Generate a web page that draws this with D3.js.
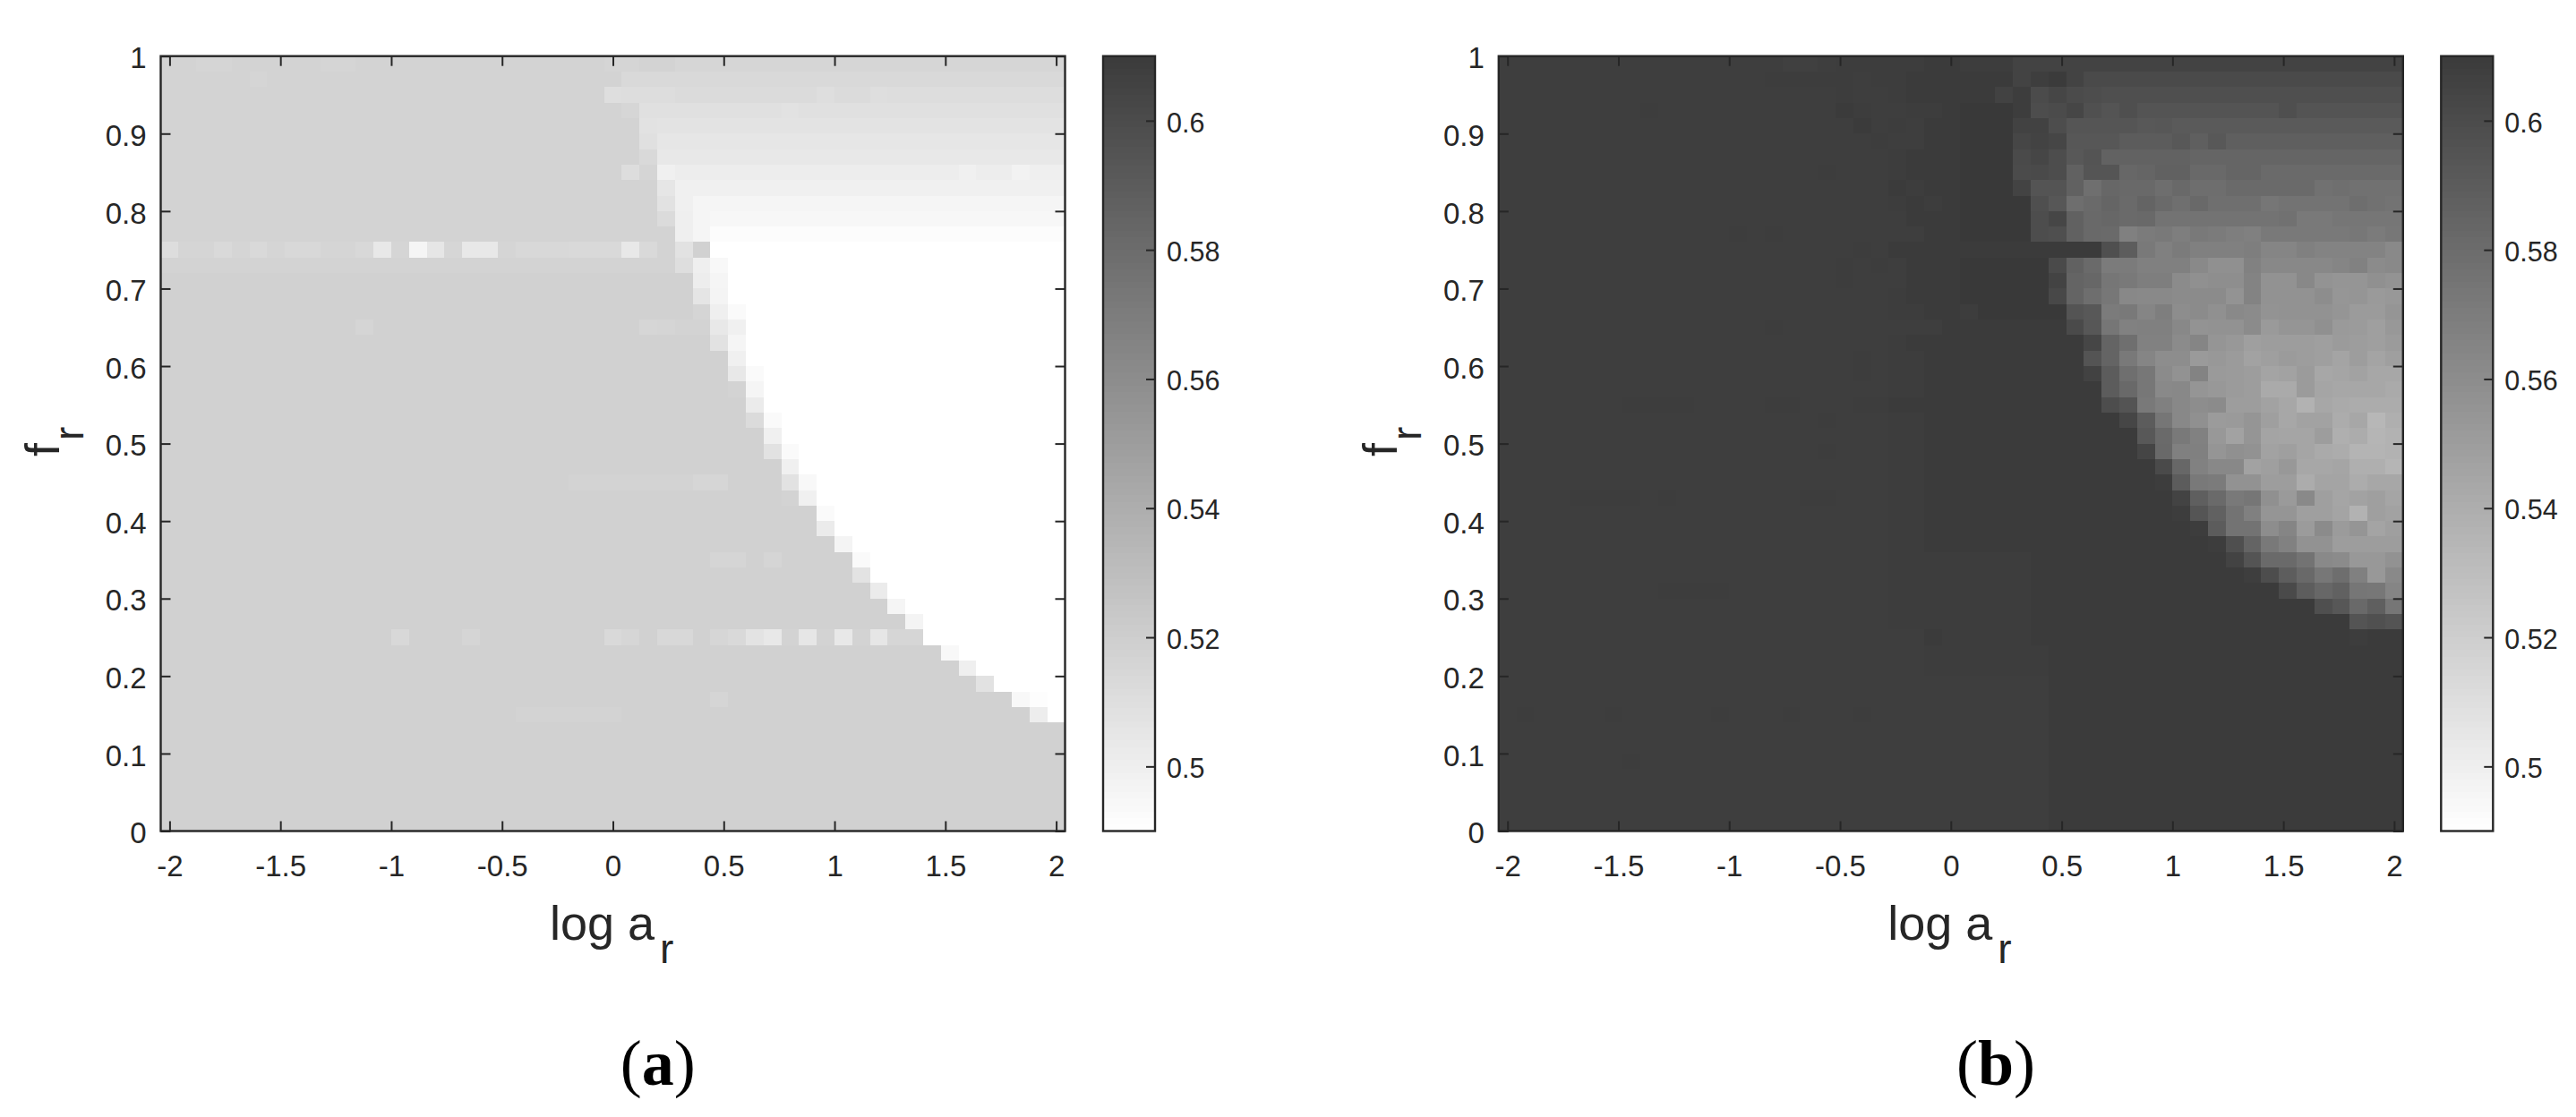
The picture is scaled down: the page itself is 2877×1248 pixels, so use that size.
<!DOCTYPE html>
<html>
<head>
<meta charset="utf-8">
<script src="https://d3js.org/d3.v7.min.js"></script>
<style>
html,body{margin:0;padding:0;background:#fff}
svg{display:block}
text{font-family:"Liberation Sans",Arial,sans-serif;fill:#262626}
.panel{font-family:"Liberation Serif",serif;fill:#000}
</style>
</head>
<body>
<svg id="chart" width="2877" height="1248"></svg>
<script>
// Tick labels
const xTicks = [-2,-1.5,-1,-0.5,0,0.5,1,1.5,2];
const yTicks = [0,0.1,0.2,0.3,0.4,0.5,0.6,0.7,0.8,0.9,1];
const cTicks = [0.5,0.52,0.54,0.56,0.58,0.6];
const panels = ["a","b"];

// Cell grid: 51 columns of log a_r, 50 rows of f_r; values in thousandths, "v*n" = n repeats, top row first
const panelA = [
"517*2,516*2,517*5,516*2,517*14,516*2,517*2,515*22",
"517*5,516,517*20,513*25",
"517*25,510,511*3,512*8,510,512*2,510,511*10",
"517*26,515,509*8,508,509*15",
"517*27,508,507*23",
"517*27,509,505*23",
"517*27,513,504*23",
"517*26,511,516,499,501*16,499,501*2,498,500*2",
"517*28,505,499*22",
"517*28,508,499,496*21",
"517*28,512,500,496,495*20",
"517*29,500,496,492*20",
"511,516*2,513,516,513,516,514*2,516*2,514,504,516,496,505,515,504*2,516,514*3,513*3,504,513,517,508,518,490*20",
"517*29,510,500,494,490*19",
"518*30,501,496,490*19",
"518*30,506,497,490*19",
"518*30,516,500,493,490*18",
"518*11,516,518*15,515,516,517,517,504,499,490*18",
"518*31,508,496,490*18",
"518*32,499,490*18",
"518*32,504,493,490*17",
"518*32,517,496,490*17",
"518*33,502,490*17",
"518*33,512,493,490*16",
"518*34,499,490*16",
"518*34,508,493,490*15",
"518*35,499,490*15",
"518*23,517*7,515*2,518*3,508,494,490*14",
"518*35,517,499,490*14",
"518*37,493,490*13",
"518*37,502,490*13",
"518*38,497,490*12",
"518*31,516*2,518,516,518*4,493,490*11",
"518*39,507,490*11",
"518*40,502,490*10",
"518*41,496,490*9",
"518*42,497,490*8",
"518*13,514,518*3,516,518*7,513,515,518,514*2,518,515,513,507,504,517,505,517,504,517,505,515*2,490*8",
"518*44,494,490*6",
"518*45,500,490*5",
"518*46,508,490*4",
"518*31,516,518*16,494,491,490",
"518*20,517*6,518*23,501,490",
"518*51","518*51","518*51","518*51","518*51","518*51","518*51"
];

const panelB = [
"608*16,607*2,608,609*5,610*2,609*3,605*22",
"608*15,609*5,608,609*2,610*3,610*3,605,608,610,605,601*18",
"608*19,609,608*2,609,610*3,610*2,606,609,600,603,600,599,598*17",
"608*8,609,608*10,610,609,608*2,609*2,610,611*3,609,599,600,603,597,595,598,595*8,598,595*6",
"608*20,610,608,609,608,610*2,611*3,606,606,599,594,594*3,592,593,591*13",
"608*21,609,608*2,610*2,611*3,603,605,603,593,593*2,590*3,592,588,592,588*10",
"608*22,609,610*3,611*3,601,603,599,592,595,586*5,584*12",
"608*18,609,608*3,609,610*3,611*3,600,601,599,587,594,594,583,584,587*2,582*2,584*2,581*8",
"608*22,610,609,610*2,611*3,605,595,595,587,578,583,582*2,579,582,579*2,581*4,581,577,578,577*3",
"608*22,609,610,609,610,611*3,611,598,593,579,581,584,581,585,581,578,582,578*3,574,576*4,579,577,576",
"608*23,610*3,611*4,599,603,587,582,583,581,582,576*7,577,572*2,574*4",
"608*13,609,608,609,608*8,610*2,611*4,599,598,587,582,581,568,571,572,569,572,571,569,568,572*5,573,571,573",
"608*20,609,608,610*4,610*8,598,589,572,568,571,568*3,569,565*2,568,566*4,562",
"608*19,609,608,609,608,610*3,611*5,601,587,581,571,571,568*3,562,558*2,567,563*4,565,567,561,562",
"608*19,609,608*3,610*3,611*5,605,585,583,574,572,569*2,561,558,559*2,566,557*2,563,556,555*2,558,556",
"608*22,609,610*3,611*5,602,585,579,573,563,562*2,561*3,556,566,557*3,560,554,555,552,553",
"608*22,609*2,610*2,609,611*5,595,592,571,572,565,569,560,561,558,562,561,556,557*3,555,551*2,555",
"608*15,609,608*9,610,610*6,601,593,574,567,568*2,563,556,557*2,561,552,555*2,558,552,551,549,553",
"608*22,609,610*3,610*7,603,585,578,567*2,561,565,555,553,549,550*3,549,551,550,549,551",
"608*20,609,608,609*2,610*2,610*7,595,585,572,565,560,560,552,553,551,547,549,551,550,549,546,550,546,549",
"608*20,609,608,609*2,610*2,610*7,606,590,578,573,561,557,566,552,551,550,546,547,551,544,545,547,544,544",
"608*22,609*2,610*2,610*8,590,582,573,562,563,555,553,551,550,542*2,551,545,544*3,542",
"608*7,609*4,608*4,609*2,608*3,609*2,610*4,610*8,599,595,572,568,563,560,561,550*2,547,544,537,544,542,541*3",
"608*18,609,608*3,609*2,610*2,610*8,610,603,590,574,563,558,551,552,555,549,544,547,547,541,544,534,539",
"608*22,609*2,610*2,610*9,610,592,581,572,567,553,547,555,546,545,545,550,539,541,535,537",
"608*18,609,608*3,609*2,610*2,610*10,604,582,568,568,555,558,557,547,549,545,542,541,536,536,537",
"608*22,609*2,610*2,610*11,601,583,567,563,563,547,549,553,544,544,545,539,539,535",
"608*22,609*2,610*2,610*11,609,590,572,571,557,557,550,550,541,546,546,541,544,544",
"608*4,609*4,608,609,608*7,609*2,608*3,609*2,610*2,610*12,605,588,581,572,574,558,552,562,549,545,547,549,545",
"608*22,609*2,610*2,610*12,609,594,587,576,568,555,555,549,549,546,537,549,547",
"608*22,609*2,610*2,610*13,609,590,576,576,560,565,551,561,551,555,546,549",
"608*22,609*2,610*2,610*14,609,598,585,572,567,557,557,550*4",
"608*22,609*8,610*11,605,595,581,581,576,562,561,553,553,557",
"608*22,609*8,610*12,608,599,589,582,573,579,568,553,562",
"608*9,609*4,608*9,609*8,610*14,601,589,583,587,574,573,565",
"608*22,609*8,610*15,610,598,593,582,588,574",
"608*22,609*8,610*18,595,597,595",
"608*24,610,609*5,610*18,609,610*2",
"608*24,609*7,610*20",
"608*24,609*7,610*20",
"608*31,610*20",
"608*31,610*20",
"608,609,608*4,609,608*5,609,608*3,609,608*3,609,608*10,610*20",
"608*31,610*20",
"608*31,610*20",
"608*7,609,608*23,610*20",
"608*31,610*20",
"608*31,610*20",
"608*31,610*20",
"608*31,610*20"
];

const expand = rows => rows.map(s => s.split(",").flatMap(t => {
  const [v, n] = t.split("*");
  return d3.range(+n || 1).map(() => +v / 1000);
}));
const grids = [expand(panelA), expand(panelB)];
grids.forEach((g, p) => g.forEach((r, i) => {
  if (r.length !== 51) console.error("panel", p, "row", i, "has", r.length);
}));
if (grids.some(g => g.length !== 50)) console.error("row count", grids.map(g => g.length));

const svg = d3.select("#chart");
const ink = "#262626";
const color = d3.scaleLinear().domain([0.49, 0.61]).range(["#ffffff", "#3b3b3b"]).interpolate(d3.interpolateRgb);
const offsets = [0, 1494.3];

panels.forEach((name, p) => {
  const g = svg.append("g").attr("transform", `translate(${offsets[p]},0)`);
  const x = d3.scaleLinear().domain([-2.04, 2.04]).range([179.5, 1189.5]);
  const y = d3.scaleLinear().domain([0, 1]).range([928.5, 62.7]);
  const data = grids[p];

  data.forEach((row, r) => {
    const fTop = 1 - 0.02 * r;
    g.selectAll(null).data(row).join("rect")
      .attr("x", (d, c) => x(-2.04 + 0.08 * c))
      .attr("width", x(0.08) - x(0))
      .attr("y", y(fTop))
      .attr("height", y(0) - y(0.02))
      .attr("fill", d => color(d))
      .attr("shape-rendering", "crispEdges");
  });

  const style = (sel, size) => {
    sel.selectAll(".domain").remove();
    sel.selectAll(".tick line").attr("stroke", ink).attr("stroke-width", 2);
    sel.selectAll(".tick text").style("font-size", size + "px").attr("fill", ink);
  };
  const fmt = d => String(d);

  const bottom = g.append("g").attr("transform", `translate(0,${y(0)})`)
    .call(d3.axisBottom(x).tickValues(xTicks).tickFormat(fmt).tickSizeInner(-11).tickPadding(24));
  style(bottom, 33);
  bottom.selectAll(".tick text").attr("y", 27).attr("dy", "0.71em");
  const top = g.append("g").attr("transform", `translate(0,${y(1)})`)
    .call(d3.axisTop(x).tickValues(xTicks).tickFormat("").tickSizeInner(-11));
  style(top, 33);
  const left = g.append("g").attr("transform", `translate(${x(-2.04)},0)`)
    .call(d3.axisLeft(y).tickValues(yTicks).tickFormat(fmt).tickSizeInner(-11).tickPadding(16));
  style(left, 33);
  left.selectAll(".tick text").attr("x", -16).attr("dy", "0.4em");
  const right = g.append("g").attr("transform", `translate(${x(2.04)},0)`)
    .call(d3.axisRight(y).tickValues(yTicks).tickFormat("").tickSizeInner(-11));
  style(right, 33);

  g.append("rect").attr("x", x(-2.04)).attr("y", y(1))
    .attr("width", x(2.04) - x(-2.04)).attr("height", y(0) - y(1))
    .attr("fill", "none").attr("stroke", ink).attr("stroke-width", 2.4);

  // axis titles
  g.append("text").attr("x", 614).attr("y", 1049.5).style("font-size", "54px")
    .text("log a").append("tspan").attr("x", 737).attr("y", 1075.7).style("font-size", "46px").text("r");
  g.append("text").attr("transform", "translate(66,510) rotate(-90)").style("font-size", "54px")
    .text("f").append("tspan").attr("dx", 3).attr("dy", 27).style("font-size", "46px").text("r");

  // panel letter
  const lab = g.append("text").attr("class", "panel").attr("x", 734.7).attr("y", 1211.7)
    .attr("text-anchor", "middle").style("font-size", "72px");
  lab.append("tspan").text("(");
  lab.append("tspan").style("font-weight", "bold").text(name);
  lab.append("tspan").text(")");

  // colour bar
  const cy = d3.scaleLinear().domain([0.49, 0.61]).range([928.5, 62.7]);
  const cbX = 1232, cbW = 58;
  const levels = d3.range(0, 120).map(k => 0.49 + k * 0.001);
  g.selectAll(null).data(levels).join("rect")
    .attr("x", cbX).attr("width", cbW)
    .attr("y", d => cy(d + 0.001))
    .attr("height", cy(0.49) - cy(0.491))
    .attr("fill", d => color(d + 0.0005))
    .attr("shape-rendering", "crispEdges");
  const cAxis = g.append("g").attr("transform", `translate(${cbX + cbW},0)`)
    .call(d3.axisRight(cy).tickValues(cTicks).tickFormat(fmt).tickSizeInner(-10).tickPadding(13));
  style(cAxis, 30.5);
  cAxis.selectAll(".tick text").attr("x", 13).attr("dy", "0.4em");
  g.append("rect").attr("x", cbX).attr("y", cy(0.61)).attr("width", cbW)
    .attr("height", cy(0.49) - cy(0.61)).attr("fill", "none").attr("stroke", ink).attr("stroke-width", 2.4);
});
</script>
</body>
</html>
